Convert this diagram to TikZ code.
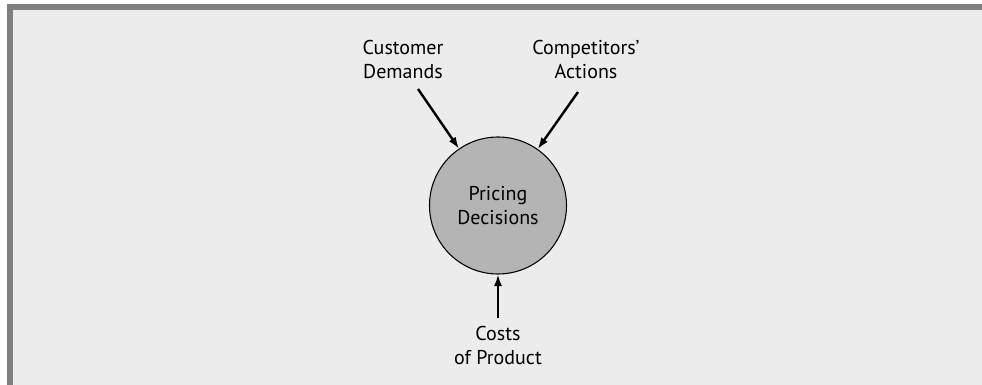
\documentclass[tikz,border=0pt]{standalone}
\usepackage{fontspec}
\setmainfont{PT Sans}
\usetikzlibrary{arrows.meta}
\definecolor{framegray}{RGB}{128,128,128}
\definecolor{panelgray}{RGB}{236,236,236}
\definecolor{discgray}{RGB}{180,180,180}
\begin{document}
\begin{tikzpicture}[x=0.75pt, y=-0.75pt,
    font=\fontsize{15}{18}\selectfont,
    disc/.style={circle, draw=black, line width=0.8pt, fill=discgray,
      minimum size=102.75pt, inner sep=0pt, outer sep=0pt, align=center},
    factor/.style={align=center, inner sep=0pt},
    feed/.style={-{Latex[length=9pt, width=6pt]}, line width=1.8pt}]
  \useasboundingbox (0,0) rectangle (982,385);
  % frame and panel
  \fill[framegray] (7,4) rectangle (982,385);
  \fill[panelgray] (13,10) rectangle (982,385);
  % centre
  \node[disc] (pricing) at (498,205.5) {Pricing\\Decisions};
  % influences
  \node[factor] (customer) at (403,60) {Customer\\Demands};
  \node[factor] (competitors) at (586,60) {Competitors'\\Actions};
  \node[factor] (costs) at (498,345) {Costs\\of Product};
  \coordinate (customer-tail) at (418,89);
  \coordinate (competitors-tail) at (578,92);
  \coordinate (costs-tail) at (498,318);
  \draw[feed] (customer-tail) -- (pricing);
  \draw[feed] (competitors-tail) -- (pricing);
  \draw[feed] (costs-tail) -- (pricing);
\end{tikzpicture}
\end{document}
